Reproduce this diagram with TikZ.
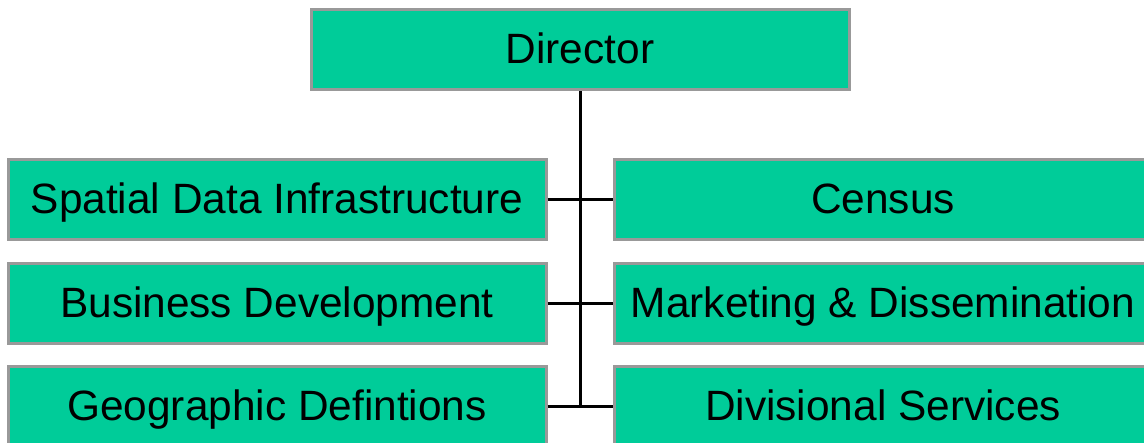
\documentclass[tikz,border=0pt]{standalone}
\usepackage{fontspec}
\setmainfont{Liberation Sans}
\definecolor{boxfill}{HTML}{00CC99}
\definecolor{boxedge}{HTML}{999999}
\begin{document}
\begin{tikzpicture}[x=1pt,y=-1pt,
  unit/.style={draw=boxedge, line width=3pt, fill=boxfill, inner sep=0pt,
    minimum width=538pt, minimum height=80pt,
    text height=31pt, text depth=3pt,
    font=\fontsize{42.4pt}{50pt}\selectfont},
  link/.style={draw=black, line width=3pt}]
\useasboundingbox (0,0) rectangle (1144,443);
\clip (0,0) rectangle (1144,443);
% head of the division
\node[unit] (dir) at (580,50) {Director};
% left column
\node[unit] (sdi) at (277,200) {Spatial Data Infrastructure};
\node[unit] (bus) at (277,303.5) {Business Development};
\node[unit] (geo) at (277,407) {Geographic Defintions};
% right column
\node[unit] (cen) at (883,200) {Census};
\node[unit] (mkt) at (883,303.5) {Marketing \& Dissemination};
\node[unit] (div) at (883,407) {Divisional Services};
% spine and branches
\coordinate (spineend) at (580,407);
\draw[link] (dir.south) -- (spineend);
\draw[link] (sdi.east) -- (cen.west);
\draw[link] (bus.east) -- (mkt.west);
\draw[link] (geo.east) -- (div.west);
\end{tikzpicture}
\end{document}
